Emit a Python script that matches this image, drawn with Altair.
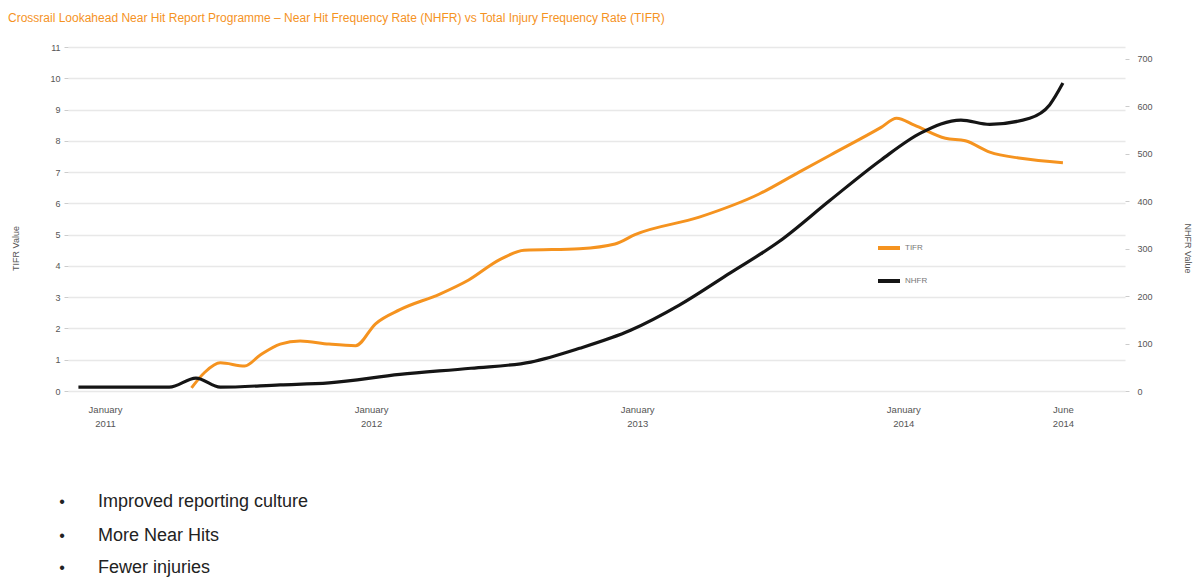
import altair as alt
import pandas as pd

# ---- data (months since January 2011) ----
tifr_month = [3.9, 4.5, 5.2, 6.3, 7.0, 7.9, 8.8, 10.1, 11.3, 12.2, 13.3, 15.1, 16.4, 17.8, 18.9,
              21.4, 23.0, 23.9, 26.8, 29.5, 31.3, 32.7, 35.0, 35.7, 36.5, 37.9, 38.8, 39.9, 41.3, 43.2]
tifr_value = [0.1, 0.6, 0.9, 0.8, 1.15, 1.5, 1.6, 1.5, 1.45, 2.15, 2.6, 3.1, 3.55, 4.2, 4.5,
              4.55, 4.7, 5.0, 5.56, 6.3, 7.0, 7.54, 8.43, 8.72, 8.5, 8.08, 8.0, 7.64, 7.44, 7.3]

nhfr_month = [-1.2, 1.0, 2.9, 4.1, 5.2, 7.9, 10.1, 13.3, 16.5, 19.2, 21.4, 23.7, 25.9, 28.2,
              30.4, 32.7, 35.0, 36.8, 38.6, 39.9, 41.7, 42.6, 43.2]
nhfr_value = [8, 8, 8, 27, 8, 13, 17, 35, 48, 61, 90, 128, 181, 249,
              315, 402, 487, 544, 571, 562, 575, 603, 649]

series_names = ["TIFR", "NHFR"]
series_colors = ["#F5931F", "#151515"]

x_tick_values = [0, 12, 24, 36, 43.2]
x_tick_labels = [["January", "2011"], ["January", "2012"], ["January", "2013"],
                 ["January", "2014"], ["June", "2014"]]
left_ticks = list(range(0, 12))
right_ticks = [0, 100, 200, 300, 400, 500, 600, 700]

title_text = ("Crossrail Lookahead Near Hit Report Programme – Near Hit Frequency Rate (NHFR) "
              "vs Total Injury Frequency Rate (TIFR)")
bullet_lines = ["Improved reporting culture", "More Near Hits", "Fewer injuries"]

# ---- build tables ----
tifr_df = pd.DataFrame({"month": tifr_month, "value": tifr_value, "series": "TIFR"})
nhfr_df = pd.DataFrame({"month": nhfr_month, "value": nhfr_value, "series": "NHFR"})

label_expr = ""
for v, lab in zip(x_tick_values, x_tick_labels):
    label_expr += f"abs(datum.value - {v}) < 0.5 ? ['{lab[0]}', '{lab[1]}'] : "
label_expr += "''"

FONT = "Liberation Sans"
W, H = 1057, 344
x_scale = alt.Scale(domain=[-1.67, 46.0], nice=False, zero=False)
color_scale = alt.Scale(domain=series_names, range=series_colors)

x_enc = alt.X("month:Q", scale=x_scale,
              axis=alt.Axis(values=x_tick_values, labelExpr=label_expr, title=None,
                            grid=False, domain=False, ticks=False, labelPadding=13,
                            labelFontSize=9.5, labelColor="#555555", labelFont=FONT,
                            labelLineHeight=14, labelBaseline="top"))

tifr_line = alt.Chart(tifr_df).mark_line(strokeWidth=3, interpolate="monotone").encode(
    x=x_enc,
    y=alt.Y("value:Q", scale=alt.Scale(domain=[0, 11], nice=False),
            axis=alt.Axis(orient="left", values=left_ticks, title="TIFR Value",
                          titleFontSize=9, titleFontWeight="normal", titleColor="#555555",
                          titleFont=FONT, titleX=-48, titleY=201,
                          labelFontSize=9, labelColor="#555555", labelFont=FONT,
                          grid=True, gridColor="#e8e8e8", gridWidth=1.5,
                          domain=False, tickColor="#cccccc", tickSize=4, labelPadding=4)),
    color=alt.Color("series:N", scale=color_scale, sort=series_names,
                    legend=alt.Legend(title=None, orient="none", legendX=808, legendY=188,
                                      symbolType="stroke", symbolStrokeWidth=4, symbolSize=484,
                                      rowPadding=12, labelFontSize=8, labelColor="#777777",
                                      labelFont=FONT, labelOffset=3)),
)

nhfr_line = alt.Chart(nhfr_df).mark_line(strokeWidth=3.2, interpolate="monotone").encode(
    x=x_enc,
    y=alt.Y("value:Q", scale=alt.Scale(domain=[0, 725], nice=False),
            axis=alt.Axis(orient="right", values=right_ticks, title="NHFR Value",
                          titleFontSize=9, titleFontWeight="normal", titleColor="#555555",
                          titleFont=FONT, titleAngle=90, titleX=57, titleY=201,
                          labelFontSize=9, labelColor="#555555", labelFont=FONT,
                          grid=False, domain=False, tickColor="#cccccc", tickSize=4,
                          labelPadding=8)),
    color=alt.Color("series:N", scale=color_scale, sort=series_names),
)

layers = [tifr_line, nhfr_line]
bullet_y = [455, 489, 521]
for line, yy in zip(bullet_lines, bullet_y):
    bdf = pd.DataFrame({"t": [line], "b": ["•"]})
    base = alt.Chart(bdf)
    layers.append(base.mark_text(align="center", baseline="middle", fontSize=16,
                                 font=FONT, color="#222222").encode(
        text="b:N", x=alt.value(-6), y=alt.value(yy)))
    layers.append(base.mark_text(align="left", baseline="middle", fontSize=18,
                                 font=FONT, color="#222222").encode(
        text="t:N", x=alt.value(30), y=alt.value(yy)))

chart = alt.layer(*layers).resolve_scale(y="independent").properties(
    width=W, height=H,
    autosize=alt.AutoSizeParams(type="none"),
    padding={"left": 60, "top": 39, "right": 68, "bottom": 189},
    title=alt.TitleParams(text=title_text, anchor="start", frame="group", dx=-60,
                          offset=18, fontSize=12, fontWeight="normal", color="#F5931F",
                          font=FONT),
).configure_view(stroke=None)

chart.save("out.html", embed_options={"renderer": "svg", "actions": False})
